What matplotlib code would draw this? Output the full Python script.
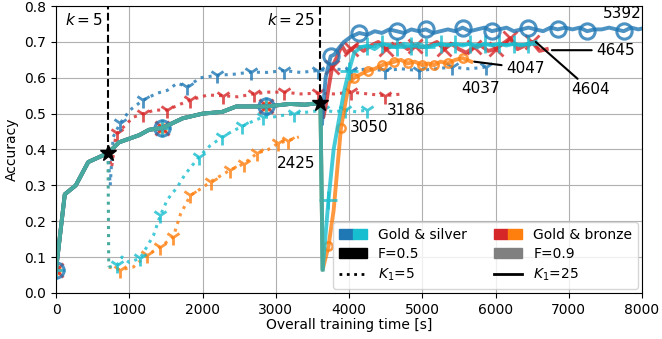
import matplotlib
matplotlib.use('Agg')
import matplotlib.pyplot as plt
from matplotlib.patches import Patch
from matplotlib.lines import Line2D
from matplotlib.legend_handler import HandlerTuple

plt.rcParams.update({'font.size': 10})

C_BLUE, C_CYAN, C_RED, C_ORANGE = '#1f77b4', '#17becf', '#d62728', '#ff7f0e'
C_MIX = '#48aa9e'

# switching points
k5_x, k5_y = 710, 0.39
k25_x, k25_y = 3610, 0.53

# shared first stage (all K1=25 runs up to k=25)
pre_x = [0, 120, 270, 440, 710, 860, 1135, 1270, 1450, 1730, 2000, 2270, 2460, 2640, 2870, 3190, 3400, 3610]
pre_y = [0.064, 0.275, 0.30, 0.365, 0.39, 0.42, 0.44, 0.455, 0.46, 0.487, 0.50, 0.505, 0.52, 0.52, 0.52, 0.527, 0.525, 0.53]

# F=0.9 runs restart after switching
drop5_x, drop5_y = [710, 720], [0.39, 0.072]
drop25_x, drop25_y = [3610, 3640], [0.53, 0.065]

# K1=25 tails
gs05_x = [3630, 3680, 3750, 3800, 3850, 3930, 4030, 4140, 4250, 4350, 4450, 4550, 4650, 4750, 4850, 4950,
          5050, 5150, 5250, 5350, 5450, 5550, 5650, 5750, 5850, 5950, 6050, 6150, 6250, 6350, 6450, 6550,
          6650, 6750, 6850, 6950, 7050, 7150, 7250, 7350, 7450, 7550, 7650, 7750, 7850, 7950, 8050]
gs05_y = [0.47, 0.60, 0.66, 0.665, 0.68, 0.70, 0.715, 0.725, 0.72, 0.73, 0.725, 0.735, 0.73, 0.725, 0.735, 0.73,
          0.735, 0.725, 0.73, 0.735, 0.73, 0.74, 0.73, 0.735, 0.74, 0.73, 0.735, 0.74, 0.73, 0.735, 0.74, 0.735,
          0.73, 0.74, 0.735, 0.74, 0.735, 0.74, 0.73, 0.735, 0.735, 0.74, 0.735, 0.73, 0.74, 0.735, 0.74]

gb05_x = [3650, 3680, 3720, 3770, 3840, 3900, 3960, 4030, 4100, 4200, 4300, 4400, 4500, 4600, 4700, 4800,
          4900, 5000, 5100, 5200, 5300, 5400, 5500, 5600, 5700, 5800, 5900, 6000, 6100, 6200, 6300, 6400,
          6500, 6600, 6700]
gb05_y = [0.49, 0.52, 0.57, 0.63, 0.66, 0.69, 0.67, 0.68, 0.69, 0.675, 0.69, 0.70, 0.68, 0.69, 0.695, 0.68,
          0.69, 0.685, 0.69, 0.70, 0.68, 0.695, 0.68, 0.67, 0.685, 0.69, 0.675, 0.68, 0.695, 0.71, 0.68, 0.69,
          0.70, 0.675, 0.68]

gs09_x = [3640, 3720, 3790, 3860, 3930, 4000, 4070, 4160, 4250, 4350, 4450, 4550, 4650, 4750, 4850, 4950,
          5050, 5150, 5250, 5350, 5450, 5550, 5650, 5750, 5850, 5950, 6050, 6150, 6250, 6350, 6450, 6550]
gs09_y = [0.065, 0.26, 0.40, 0.48, 0.56, 0.62, 0.67, 0.685, 0.69, 0.68, 0.695, 0.69, 0.685, 0.695, 0.69, 0.695,
          0.685, 0.69, 0.695, 0.69, 0.695, 0.69, 0.695, 0.685, 0.695, 0.69, 0.695, 0.69, 0.695, 0.69, 0.695, 0.70]

gb09_x = [3640, 3720, 3790, 3890, 3950, 4000, 4070, 4160, 4260, 4350, 4450, 4530, 4620, 4710, 4800, 4900,
          5000, 5080, 5160, 5250, 5350, 5450, 5550, 5670]
gb09_y = [0.065, 0.13, 0.23, 0.46, 0.53, 0.585, 0.60, 0.61, 0.62, 0.625, 0.635, 0.64, 0.645, 0.65, 0.64, 0.645,
          0.635, 0.64, 0.635, 0.645, 0.64, 0.65, 0.655, 0.645]

# K1=5 runs (from k=5)
d_gs05_x = [710, 740, 780, 875, 1010, 1190, 1380, 1520, 1655, 1790, 1970, 2200, 2430, 2660, 2880, 3110,
            3340, 3570, 3800, 4030, 4260, 4490, 4720, 4950, 5180, 5410, 5640, 5870]
d_gs05_y = [0.39, 0.30, 0.435, 0.473, 0.51, 0.538, 0.557, 0.565, 0.585, 0.575, 0.60, 0.607, 0.61, 0.616, 0.615, 0.62,
            0.615, 0.62, 0.625, 0.62, 0.625, 0.62, 0.625, 0.62, 0.625, 0.63, 0.625, 0.63]

d_gb05_x = [710, 760, 808, 835, 1055, 1190, 1350, 1520, 1680, 1835, 2070, 2280, 2480, 2700, 2900, 3110,
            3340, 3570, 3800, 4030, 4260, 4490, 4730]
d_gb05_y = [0.39, 0.35, 0.427, 0.445, 0.49, 0.50, 0.51, 0.51, 0.525, 0.538, 0.552, 0.55, 0.547, 0.555, 0.56, 0.56,
            0.555, 0.557, 0.555, 0.56, 0.555, 0.55, 0.555]

d_gs09_x = [720, 835, 900, 1000, 1150, 1330, 1425, 1520, 1655, 1760, 1955, 2100, 2270, 2400, 2545, 2700,
            2820, 2950, 3090, 3250, 3460, 3650, 3800, 3950, 4100, 4240]
d_gs09_y = [0.072, 0.078, 0.10, 0.085, 0.097, 0.16, 0.217, 0.26, 0.295, 0.33, 0.38, 0.41, 0.435, 0.45, 0.465, 0.48,
            0.49, 0.49, 0.495, 0.50, 0.505, 0.51, 0.505, 0.51, 0.505, 0.51]

d_gb09_x = [720, 875, 1055, 1245, 1425, 1600, 1700, 1835, 2010, 2110, 2380, 2560, 2750, 2900, 3030, 3170, 3315]
d_gb09_y = [0.072, 0.064, 0.072, 0.106, 0.128, 0.156, 0.22, 0.272, 0.295, 0.31, 0.343, 0.36, 0.39, 0.40, 0.417,
            0.425, 0.435]

# end labels: text, text position, draw leader line?
end_labels = [
    ('2425', (3280, 0.362), False, (d_gb09_x[-1], d_gb09_y[-1])),
    ('3050', (4270, 0.46), False, (d_gs09_x[-1], d_gs09_y[-1])),
    ('3186', (4780, 0.51), False, (d_gb05_x[-1], d_gb05_y[-1])),
    ('4037', (5800, 0.57), False, (d_gs05_x[-1], d_gs05_y[-1])),
]

fig = plt.figure(figsize=(6.62, 3.39), dpi=100)
ax = fig.add_axes([0.0846, 0.136, 0.8852, 0.846])

lw = 2.8
al = 0.8

# dotted K1=5
dotted = [(d_gb09_x, d_gb09_y, C_ORANGE, [1, 3, 4, 5, 7, 9, 10, 11, 12, 14, 15]),
          (d_gs09_x, d_gs09_y, C_CYAN, [1, 4, 6, 10, 12, 14, 16, 19, 21, 23, 25]),
          (d_gb05_x, d_gb05_y, C_RED, [3, 5, 7, 9, 11, 13, 15, 17, 19, 21]),
          (d_gs05_x, d_gs05_y, C_BLUE, [3, 5, 9, 11, 13, 15, 17, 19, 21, 23, 25, 27])]
for x, y, c, me in dotted:
    ax.plot(x, y, ls=':', lw=2.2, color=c, alpha=al)
    ax.plot(x, y, ls='none', marker='1', ms=11, mew=2, color=c, alpha=al, markevery=me)
ax.plot(drop5_x, drop5_y, ls=':', lw=2.2, color=C_MIX)

# solid K1=25
solid = [(drop25_x[1:] + gb09_x[1:], drop25_y[1:] + gb09_y[1:], C_ORANGE,
          dict(marker='o', ms=6, mfc='none', mew=1.8), [0, 8, 14, 19, 21, 24, 26, 28, 30, 32, 34, 36, 38, 40]),
         (gb05_x, gb05_y, C_RED, dict(marker='x', ms=10, mew=2),
          [0, 8, 14, 21, 25, 30, 34, 38, 42, 45, 47, 50]),
         (drop25_x[1:] + gs09_x[1:], drop25_y[1:] + gs09_y[1:], C_CYAN, dict(marker='+', ms=13, mew=2),
          [0, 8, 14, 19, 23] + list(range(26, 50, 2))),
         (gs05_x, gs05_y, C_BLUE, dict(marker='o', ms=11, mfc='none', mew=2.2),
          [0, 8, 14, 20, 25, 30, 34, 39, 43, 48, 52, 56, 61])]
for tx, ty, c, mk, me in solid:
    x = pre_x + tx
    y = pre_y + ty
    ax.plot(x, y, lw=lw, color=c, alpha=al)
    ax.plot(x, y, ls='none', color=c, alpha=al, markevery=me, **mk)
ax.plot(pre_x, pre_y, lw=lw, color=C_MIX, solid_joinstyle='round')
ax.plot(drop25_x, drop25_y, lw=lw, color=C_MIX)

# switching markers
for kx, ky, name in [(k5_x, k5_y, '$k=5$'), (k25_x, k25_y, '$k=25$')]:
    ax.plot([kx, kx], [ky, 0.8], ls='--', color='black', lw=1.5, zorder=5)
    ax.plot(kx, ky, marker='*', color='black', ms=12, zorder=6)
    ax.annotate(name, xy=(kx, 0.8), xytext=(-4, -4), textcoords='offset points',
                ha='right', va='top', fontsize=11)

for txt, pos, lead, end in end_labels:
    ax.text(pos[0], pos[1], txt, ha='center', va='center', fontsize=11)

ax.annotate('4047', xy=(gb09_x[-1] + 40, gb09_y[-1]), xytext=(6140, 0.627), ha='left', va='center',
            fontsize=11, arrowprops=dict(arrowstyle='-', color='black', lw=1.5, shrinkA=1, shrinkB=0))
ax.annotate('4604', xy=(gs09_x[-1], gs09_y[-1]), xytext=(7030, 0.566), ha='left', va='center',
            fontsize=11, arrowprops=dict(arrowstyle='-', color='black', lw=1.5, shrinkA=1, shrinkB=0))
ax.annotate('4645', xy=(gb05_x[-1] + 70, gb05_y[-1] - 0.003), xytext=(7370, 0.677), ha='left', va='center',
            fontsize=11, arrowprops=dict(arrowstyle='-', color='black', lw=1.5, shrinkA=1, shrinkB=0))
ax.text(7990, 0.778, '5392', ha='right', va='center', fontsize=11)

ax.set_xlim(0, 8000)
ax.set_ylim(0, 0.8)
ax.set_xticks([0, 1000, 2000, 3000, 4000, 5000, 6000, 7000, 8000])
ax.set_yticks([0.0, 0.1, 0.2, 0.3, 0.4, 0.5, 0.6, 0.7, 0.8])
ax.grid(True, color='#b0b0b0', lw=0.8)
ax.set_axisbelow(True)
ax.set_xlabel('Overall training time [s]', labelpad=1)
ax.set_ylabel('Accuracy')

h_gs = (Patch(color=C_BLUE), Patch(color=C_CYAN))
h_gb = (Patch(color=C_RED), Patch(color=C_ORANGE))
h_f05 = Patch(color='black')
h_f09 = Patch(color='grey')
h_k5 = Line2D([], [], color='black', ls=':', lw=2)
h_k25 = Line2D([], [], color='black', ls='-', lw=2)
leg = ax.legend([h_gs, h_f05, h_k5, h_gb, h_f09, h_k25],
                ['Gold & silver', 'F=0.5', '$K_1$=5', 'Gold & bronze', 'F=0.9', '$K_1$=25'],
                ncol=2, loc='lower right', handler_map={tuple: HandlerTuple(ndivide=None, pad=0)},
                borderaxespad=0.3, labelspacing=0.4)
leg.set_zorder(10)

fig.savefig('out.png', dpi=100)
